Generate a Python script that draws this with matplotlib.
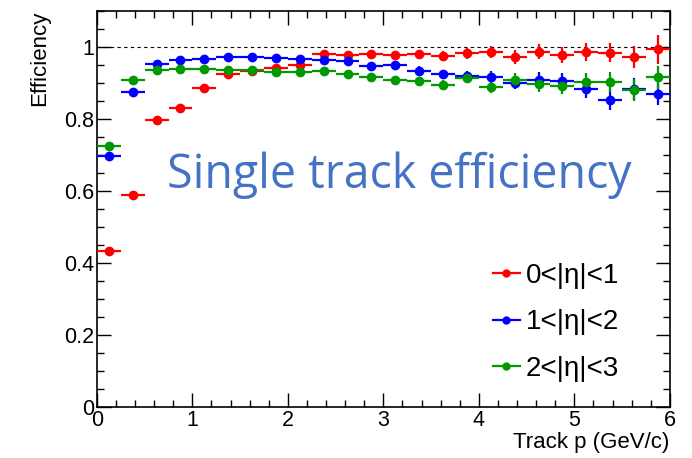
import numpy as np
import matplotlib
matplotlib.use("Agg")
import matplotlib.pyplot as plt
from matplotlib.ticker import MultipleLocator
from matplotlib.lines import Line2D

plt.rcParams['font.family'] = ['Liberation Sans', 'DejaVu Sans']

p_centers = [0.125 + 0.25 * i for i in range(24)]
p_halfwidth = [0.125] * 24

eff_0_1 = [0.433, 0.590, 0.798, 0.831, 0.885, 0.924, 0.932, 0.943, 0.949, 0.980, 0.978, 0.980,
           0.977, 0.980, 0.976, 0.982, 0.987, 0.973, 0.987, 0.978, 0.985, 0.984, 0.973, 0.994]
err_0_1 = [0.004, 0.004, 0.004, 0.004, 0.005, 0.005, 0.006, 0.006, 0.007, 0.008, 0.009, 0.010,
           0.011, 0.012, 0.013, 0.015, 0.017, 0.019, 0.021, 0.023, 0.025, 0.027, 0.030, 0.040]

eff_1_2 = [0.698, 0.876, 0.954, 0.963, 0.968, 0.971, 0.971, 0.970, 0.967, 0.965, 0.961, 0.948,
           0.950, 0.934, 0.924, 0.919, 0.916, 0.901, 0.909, 0.906, 0.884, 0.854, 0.883, 0.870]
err_1_2 = [0.004, 0.004, 0.004, 0.004, 0.005, 0.005, 0.006, 0.006, 0.007, 0.008, 0.009, 0.010,
           0.011, 0.012, 0.013, 0.015, 0.017, 0.019, 0.021, 0.023, 0.025, 0.030, 0.030, 0.032]

eff_2_3 = [0.726, 0.908, 0.935, 0.938, 0.938, 0.937, 0.936, 0.931, 0.931, 0.933, 0.924, 0.916,
           0.908, 0.905, 0.895, 0.915, 0.890, 0.908, 0.897, 0.893, 0.904, 0.903, 0.880, 0.916]
err_2_3 = [0.004, 0.004, 0.004, 0.004, 0.005, 0.005, 0.006, 0.006, 0.007, 0.008, 0.009, 0.010,
           0.011, 0.012, 0.013, 0.015, 0.017, 0.019, 0.021, 0.023, 0.025, 0.027, 0.030, 0.032]

labels = ['0<|η|<1', '1<|η|<2', '2<|η|<3']
colors = ['#ff0000', '#0000ff', '#009900']

fig = plt.figure(figsize=(6.92, 4.58), dpi=100)
ax = fig.add_axes([0.140, 0.1114, 0.828, 0.8646])

ax.axhline(1.0, color='black', lw=0.8, ls=(0, (3, 3)), zorder=1)

handles = []
for eff, err, c, lab in zip([eff_0_1, eff_1_2, eff_2_3], [err_0_1, err_1_2, err_2_3], colors, labels):
    ax.errorbar(p_centers, eff, xerr=p_halfwidth, yerr=err, fmt='o', color=c,
                ms=6, elinewidth=1.6, capsize=0, zorder=3)
    handles.append(Line2D([], [], color=c, lw=1.6, marker='o', ms=5, label=lab))

ax.set_xlim(0, 6)
ax.set_ylim(0, 1.1)
ax.xaxis.set_major_locator(MultipleLocator(1))
ax.xaxis.set_minor_locator(MultipleLocator(0.2))
ax.yaxis.set_minor_locator(MultipleLocator(0.05))
ax.set_yticks([0, 0.2, 0.4, 0.6, 0.8, 1.0])
ax.set_yticklabels(['0', '0.2', '0.4', '0.6', '0.8', '1'])
ax.tick_params(which='both', direction='in', top=True, right=True, labelsize=15.5, width=1)
ax.tick_params(which='major', length=10, pad=2)
ax.tick_params(which='minor', length=5)
for s in ax.spines.values():
    s.set_linewidth(1.2)

ax.set_xlabel('Track p (GeV/c)', fontsize=16, loc='right', labelpad=1)
ax.set_ylabel('Efficiency', fontsize=16, loc='top', labelpad=10)

ax.text(3.17, 0.607, 'Single track efficiency', ha='center', va='baseline',
        fontsize=33.5, color='#4472c4', family=['Open Sans', 'DejaVu Sans'])

leg = ax.legend(handles=handles, loc='lower left', bbox_to_anchor=(0.667, 0.028), frameon=False,
                fontsize=20, handlelength=0.97, handletextpad=0.2, labelspacing=0.74, borderpad=0)

fig.savefig('out.png', dpi=100)
